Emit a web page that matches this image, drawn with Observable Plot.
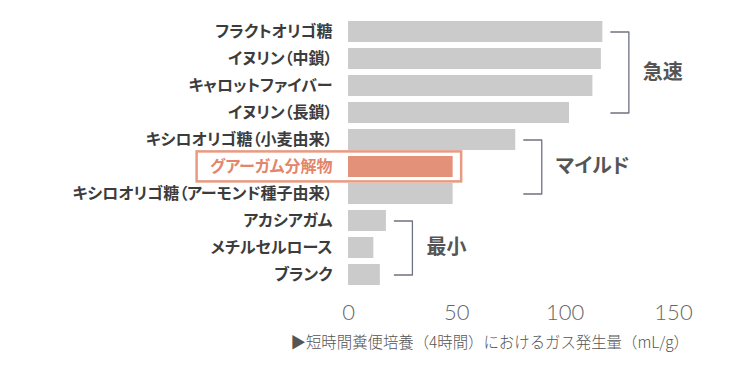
<!DOCTYPE html>
<html>
<head>
<meta charset="utf-8">
<script src="https://cdn.jsdelivr.net/npm/d3@7"></script>
<script src="https://cdn.jsdelivr.net/npm/@observablehq/plot@0.6"></script>
<style>
  html, body { margin: 0; padding: 0; background: #fff; }
  #wrap { width: 750px; height: 382px; position: relative; font-family: "Noto Sans CJK JP", "Noto Sans", sans-serif; }
  #caption { position: absolute; left: 0; width: 689px; top: 330px; text-align: right; font-size: 15.4px; line-height: 22px; color: #555; font-weight: 300; font-family: "Noto Sans CJK JP", sans-serif; white-space: nowrap; }
  #chart svg text, text.measure { font-feature-settings: "palt"; }
</style>
</head>
<body>
<div id="wrap"><div id="chart"></div><div id="caption"></div></div>
<script>
// ---- data ----
const categories = [
  "フラクトオリゴ糖",
  "イヌリン（中鎖）",
  "キャロットファイバー",
  "イヌリン（長鎖）",
  "キシロオリゴ糖（小麦由来）",
  "グアーガム分解物",
  "キシロオリゴ糖（アーモンド種子由来）",
  "アカシアガム",
  "メチルセルロース",
  "ブランク"
];
const gasValues = [117.4, 116.7, 112.8, 102.0, 77.2, 48.3, 48.3, 17.5, 11.7, 14.7];
const highlight = "グアーガム分解物";
const groupNames = ["急速", "マイルド", "最小"];
const groupMembers = [
  ["フラクトオリゴ糖", "イヌリン（中鎖）", "キャロットファイバー", "イヌリン（長鎖）"],
  ["キシロオリゴ糖（小麦由来）", "グアーガム分解物", "キシロオリゴ糖（アーモンド種子由来）"],
  ["アカシアガム", "メチルセルロース", "ブランク"]
];
const xTicks = [0, 50, 100, 150];
const xDomain = [0, 150];
const captionText = "▶短時間糞便培養（4時間）におけるガス発生量（mL/g）";

// ---- layout ----
const W = 750, H = 330;
const mLeft = 348, mRight = 77, mTop = 14, mBottom = 39;
const pad = 0.232;
const k = (W - mLeft - mRight) / (xDomain[1] - xDomain[0]); // px per unit
const step = (H - mTop - mBottom) / (categories.length + pad);
const catFont = "'Noto Sans CJK JP', sans-serif";
const catSize = 16;

const rows = categories.map((name, i) => ({name, value: gasValues[i]}));
const hiRows = rows.filter(d => d.name === highlight);
const otherRows = rows.filter(d => d.name !== highlight);

// brackets
const bracketPts = [];
const groupLabels = [];
groupMembers.forEach((members, gi) => {
  const vals = members.map(m => gasValues[categories.indexOf(m)]);
  const mx = d3.max(vals);
  const xl = mx + 8 / k, xr = mx + 26 / k;
  const first = members[0], last = members[members.length - 1];
  const g = groupNames[gi];
  bracketPts.push({g, x: xl, y: first}, {g, x: xr, y: first}, {g, x: xr, y: last}, {g, x: xl, y: last});
  groupLabels.push({g, x: xr, y: first, dy: (members.length - 1) * step / 2});
});

// measure highlighted label width (with proportional kana, as drawn)
const tmp = d3.select("body").append("svg").attr("width", 10).attr("height", 10);
const tnode = tmp.append("text").attr("class", "measure")
  .style("font-family", catFont).style("font-size", catSize + "px").style("font-weight", 700)
  .text(highlight).node();
const hiW = tnode.getComputedTextLength();
tmp.remove();
const labelGap = 16;

const orange = "#e4917a";
const chart = Plot.plot({
  width: W,
  height: H,
  marginLeft: mLeft,
  marginRight: mRight,
  marginTop: mTop,
  marginBottom: mBottom,
  style: {fontFamily: "Lato, 'Noto Sans CJK JP', sans-serif", fontSize: "22px", fontWeight: 300, color: "#666", background: "#fff", overflow: "visible"},
  x: {domain: xDomain, ticks: xTicks, tickSize: 0, tickPadding: 13, label: null},
  y: {domain: categories, padding: pad, axis: null},
  marks: [
    Plot.barX(otherRows, {x: "value", y: "name", fill: "#cbcbcb"}),
    Plot.barX(hiRows, {x: "value", y: "name", fill: orange}),
    Plot.barX(hiRows, {x1: 0, x2: "value", y: "name", fill: "none", stroke: "#e89a82", strokeWidth: 2.5,
      insetLeft: -(labelGap + hiW + 13), insetRight: -8.5, insetTop: -4.6, insetBottom: -4.4}),
    Plot.text(otherRows, {x: 0, y: "name", text: "name", dx: -labelGap, textAnchor: "end", fontFamily: catFont, fontSize: catSize, fontWeight: 700, fill: "#3c3c3c"}),
    Plot.text(hiRows, {x: 0, y: "name", text: "name", dx: -labelGap, textAnchor: "end", fontFamily: catFont, fontSize: catSize, fontWeight: 700, fill: "#e2856b"}),
    Plot.line(bracketPts, {x: "x", y: "y", z: "g", stroke: "#6f7381", strokeWidth: 1.3}),
    ...groupLabels.map(d => Plot.text([d], {x: "x", y: "y", text: "g", dx: 14, dy: d.dy, textAnchor: "start", fontFamily: catFont, fontSize: 20, fontWeight: 700, fill: "#555"}))
  ]
});
document.getElementById("chart").appendChild(chart);
document.getElementById("caption").textContent = captionText;
</script>
</body>
</html>
